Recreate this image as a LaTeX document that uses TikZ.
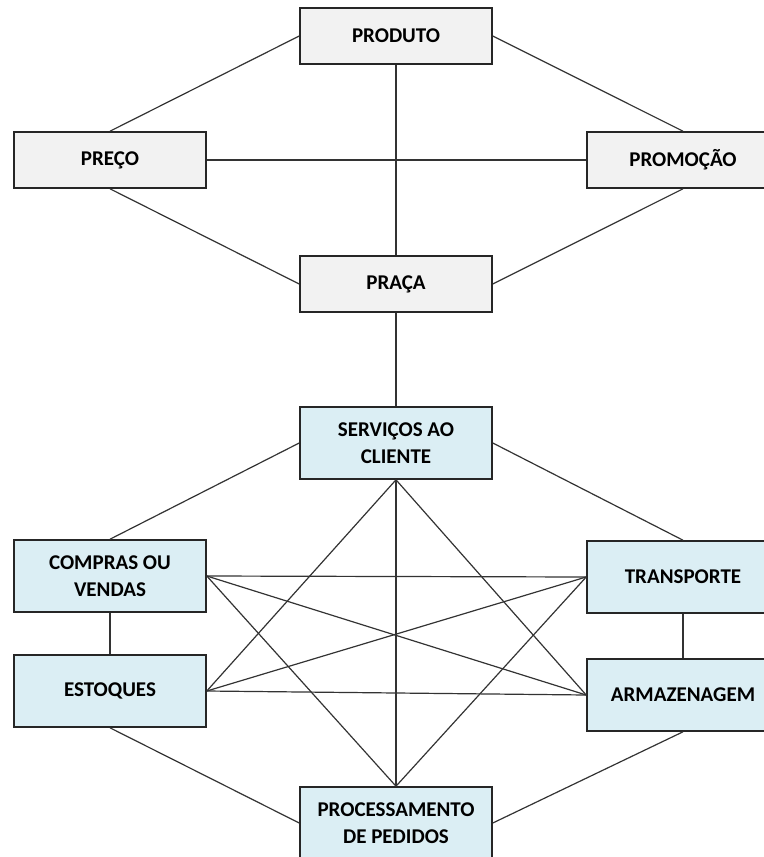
\documentclass[tikz,border=0pt]{standalone}
\usepackage{fontspec}
\setmainfont{Carlito}
\usetikzlibrary{positioning}
\definecolor{mixfill}{HTML}{F2F2F2}
\definecolor{logfill}{HTML}{DBEEF4}
\definecolor{edge}{HTML}{262626}
\definecolor{linkgray}{HTML}{333333}

\begin{document}
\begin{tikzpicture}[
  x=0.5pt, y=-0.5pt,
  mixbox/.style={draw=edge, line width=0.8pt, fill=mixfill, align=center, inner sep=0pt,
    minimum width=96pt, minimum height=28pt, font=\fontsize{10.5}{13.5}\selectfont\bfseries},
  logbox/.style={mixbox, fill=logfill, minimum height=36pt},
  link/.style={draw=linkgray, line width=0.6pt}
]
\useasboundingbox (0,0) rectangle (764,857);

% marketing mix
\node[mixbox] (produto) at (396,36) {PRODUTO};
\node[mixbox] (preco) at (110,160) {PREÇO};
\node[mixbox] (promocao) at (683,160) {PROMOÇÃO};
\node[mixbox] (praca) at (396,284) {PRAÇA};

% logistics activities
\node[logbox] (servicos) at (396,443) {SERVIÇOS AO\\CLIENTE};
\node[logbox] (compras) at (110,576) {COMPRAS OU\\VENDAS};
\node[logbox] (transporte) at (683,577) {TRANSPORTE};
\node[logbox] (estoques) at (110,691) {ESTOQUES};
\node[logbox] (armazenagem) at (683,695) {ARMAZENAGEM};
\node[logbox] (pedidos) at (396,823) {PROCESSAMENTO\\DE PEDIDOS};

\draw[link] (produto.west) -- (preco.north);
\draw[link] (produto.east) -- (promocao.north);
\draw[link] (produto) -- (praca);
\draw[link] (preco) -- (promocao);
\draw[link] (preco.south) -- (praca.west);
\draw[link] (promocao.south) -- (praca.east);
\draw[link] (praca) -- (servicos);

\draw[link] (servicos.west) -- (compras.north);
\draw[link] (servicos.east) -- (transporte.north);
\draw[link] (compras) -- (estoques);
\draw[link] (transporte) -- (armazenagem);
\draw[link] (estoques.south) -- (pedidos.west);
\draw[link] (armazenagem.south) -- (pedidos.east);
\draw[link] (servicos) -- (pedidos);
\draw[link] (servicos.south) -- (estoques.east);
\draw[link] (servicos.south) -- (armazenagem.west);
\draw[link] (compras.east) -- (transporte.west);
\draw[link] (compras.east) -- (armazenagem.west);
\draw[link] (compras.east) -- (pedidos.north);
\draw[link] (estoques.east) -- (transporte.west);
\draw[link] (estoques.east) -- (armazenagem.west);
\draw[link] (transporte.west) -- (pedidos.north);

\end{tikzpicture}
\end{document}
